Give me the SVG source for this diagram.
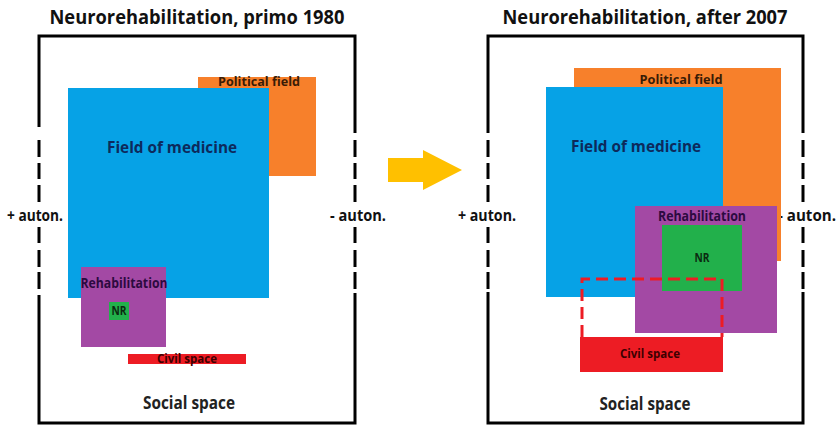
<svg xmlns="http://www.w3.org/2000/svg" width="839" height="425" viewBox="0 0 839 425">
  <style>
    text { font-family: "Open Sans", "Liberation Sans", sans-serif; font-weight: 700; text-anchor: middle; }
    .title { font-size: 19.5px; fill: #111; }
    .frame { fill: none; stroke: #000; stroke-width: 3; }
    .auton { font-size: 16px; fill: #111; }
    .social { font-size: 17px; fill: #222; }
    .pol { fill: #F7802B; }
    .med { fill: #06A2E6; }
    .reh { fill: #A349A4; }
    .nr { fill: #22B04B; }
    .civ { fill: #ED1C24; }
    .t-pol { font-size: 13px; fill: #3a1c06; }
    .t-med { font-size: 16px; fill: #0d2a5c; }
    .t-reh { font-size: 13.5px; fill: #2c0a40; }
    .t-nr { font-size: 11.5px; fill: #0b2a10; }
    .t-civ { font-size: 12px; fill: #3d0000; }
  </style>
  <defs>
    <!-- dashed side segments of a social-space frame, drawn at x=0 -->
    <g id="sideDashes">
      <path class="frame" d="M0,140V157M0,163V179M0,185V202M0,227V243M0,250V267M0,272V289"/>
    </g>
  </defs>

  <rect width="839" height="425" fill="#fff"/>

  <!-- ===== Left panel: primo 1980 ===== -->
  <g id="panel-1980">
    <text class="title" x="197" y="24" textLength="295" lengthAdjust="spacingAndGlyphs">Neurorehabilitation, primo 1980</text>
    <g id="social-space-1980">
      <path class="frame" d="M39,127V36H355V133"/>
      <path class="frame" d="M39,295V423H355V293"/>
      <use href="#sideDashes" x="39"/>
      <use href="#sideDashes" x="355"/>
      <text class="auton" x="35" y="221" textLength="56" lengthAdjust="spacingAndGlyphs">+ auton.</text>
      <text class="auton" x="358" y="221" textLength="56" lengthAdjust="spacingAndGlyphs">- auton.</text>
      <text class="social" x="189" y="409" textLength="92" lengthAdjust="spacingAndGlyphs">Social space</text>
    </g>
    <g id="political-1980">
      <rect class="pol" x="198" y="77" width="118" height="99"/>
      <text class="t-pol" x="259" y="86" textLength="82" lengthAdjust="spacingAndGlyphs">Political field</text>
    </g>
    <g id="medicine-1980">
      <rect class="med" x="68" y="88" width="201" height="210"/>
      <text class="t-med" x="172" y="153" textLength="130" lengthAdjust="spacingAndGlyphs">Field of medicine</text>
    </g>
    <g id="rehab-1980">
      <rect class="reh" x="81" y="267" width="85" height="80"/>
      <text class="t-reh" x="124" y="288" textLength="87" lengthAdjust="spacingAndGlyphs">Rehabilitation</text>
    </g>
    <g id="nr-1980">
      <rect class="nr" x="109" y="302" width="20" height="18"/>
      <text class="t-nr" x="119" y="315" textLength="15" lengthAdjust="spacingAndGlyphs">NR</text>
    </g>
    <g id="civil-1980">
      <rect class="civ" x="128" y="354" width="118" height="10"/>
      <text class="t-civ" x="187" y="363" textLength="60" lengthAdjust="spacingAndGlyphs">Civil space</text>
    </g>
  </g>

  <!-- ===== Right panel: after 2007 ===== -->
  <g id="panel-2007">
    <text class="title" x="645" y="24" textLength="285" lengthAdjust="spacingAndGlyphs">Neurorehabilitation, after 2007</text>
    <g id="social-space-2007">
      <path class="frame" d="M488,133V36H803V133"/>
      <path class="frame" d="M488,292V423H803V292"/>
      <use href="#sideDashes" x="488"/>
      <use href="#sideDashes" x="803"/>
      <text class="auton" x="487" y="221" textLength="58" lengthAdjust="spacingAndGlyphs">+ auton.</text>
      <text class="auton" x="807" y="221" textLength="58" lengthAdjust="spacingAndGlyphs">- auton.</text>
      <text class="social" x="645" y="410" textLength="91" lengthAdjust="spacingAndGlyphs">Social space</text>
    </g>
    <g id="political-2007">
      <rect class="pol" x="574" y="68" width="207" height="193"/>
      <text class="t-pol" x="681" y="84" textLength="83" lengthAdjust="spacingAndGlyphs">Political field</text>
    </g>
    <g id="medicine-2007">
      <rect class="med" x="546" y="87" width="177" height="210"/>
      <text class="t-med" x="636" y="152" textLength="130" lengthAdjust="spacingAndGlyphs">Field of medicine</text>
    </g>
    <g id="rehab-2007">
      <rect class="reh" x="635" y="206" width="142" height="127"/>
      <text class="t-reh" x="702" y="221" textLength="88" lengthAdjust="spacingAndGlyphs">Rehabilitation</text>
    </g>
    <g id="nr-2007">
      <rect class="nr" x="662" y="225" width="80" height="66"/>
      <text class="t-nr" x="702" y="262" textLength="15" lengthAdjust="spacingAndGlyphs">NR</text>
    </g>
    <g id="civil-2007">
      <!-- dashed outline of civil space's extended reach -->
      <path d="M582,337V279H722V337" fill="none" stroke="#ED1C24" stroke-width="3" stroke-dasharray="12 6"/>
      <rect class="civ" x="580" y="337" width="143" height="35"/>
      <text class="t-civ" x="650" y="358" textLength="60" lengthAdjust="spacingAndGlyphs">Civil space</text>
    </g>
  </g>

  <!-- ===== Connectors ===== -->
  <g id="connectors">
    <path id="arrow-1980-2007" d="M388,158H423V150L462,170L423,190V182H388Z" fill="#FFC000"/>
  </g>
</svg>
